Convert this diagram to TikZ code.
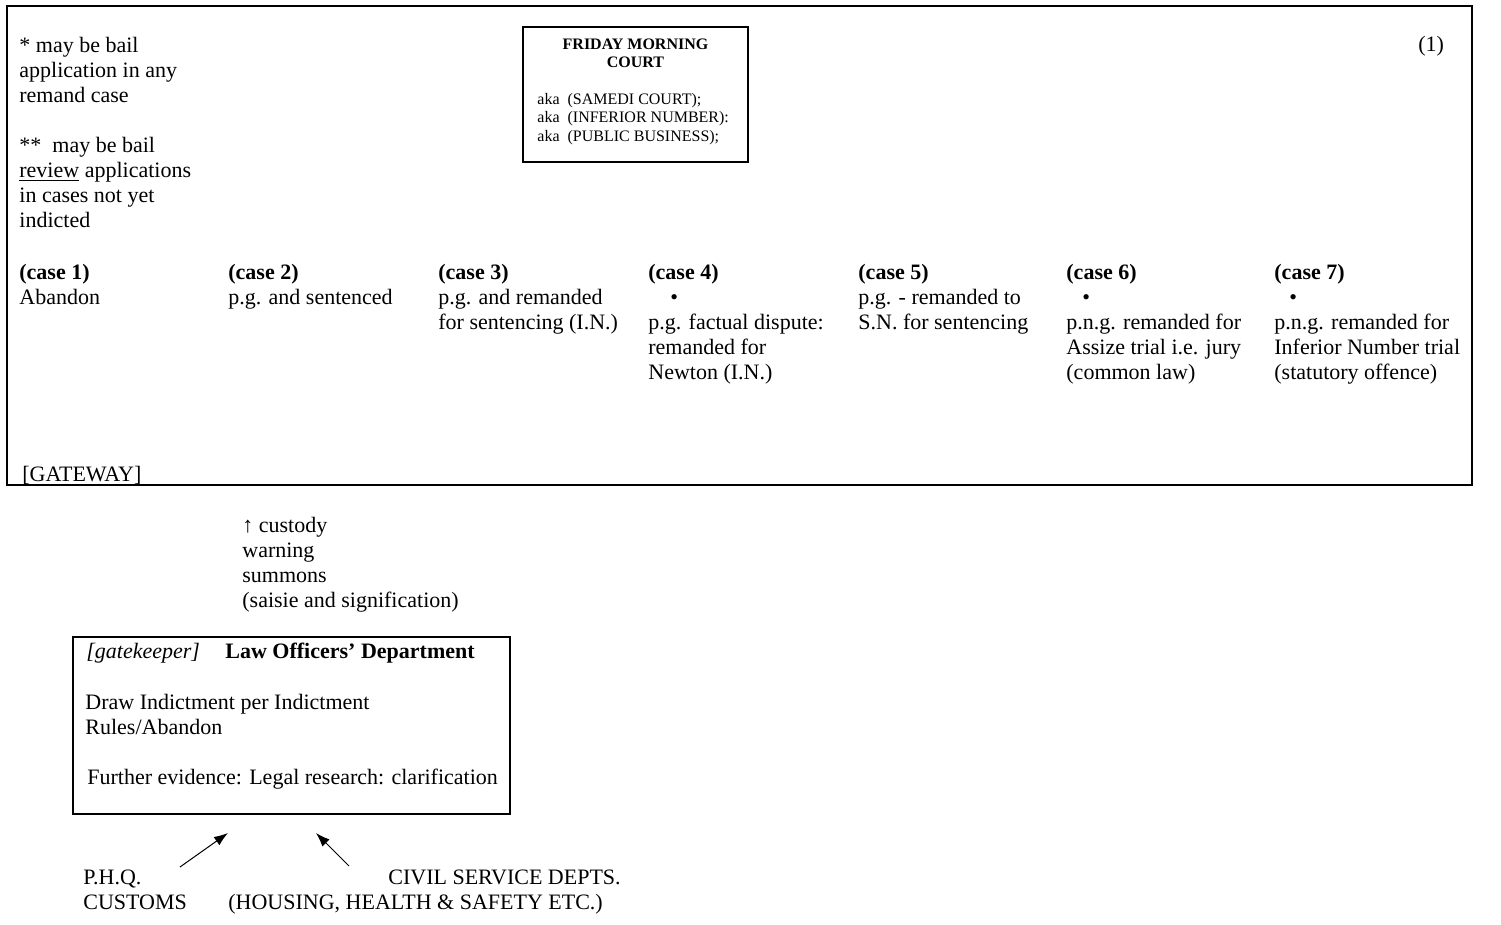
\documentclass[tikz,border=0pt]{standalone}
\usepackage{fontspec}
\setmainfont{Liberation Serif}
\usetikzlibrary{arrows.meta}

\tikzset{
  txt/.style={anchor=north west, inner sep=0pt, align=left, font=\fontsize{11}{12.5}\selectfont, execute at begin node=\strut},
  smalltxt/.style={anchor=north west, inner sep=0pt, align=left, font=\fontsize{8}{9.25}\selectfont, execute at begin node=\strut},
  frame/.style={draw, line width=0.7pt},
  feed/.style={-{Latex[length=7pt,width=5pt]}, line width=0.5pt}
}

\begin{document}
\begin{tikzpicture}[x=0.5pt, y=-0.5pt]
            \useasboundingbox (0,0) rectangle (1501,925);
            % the court
            \draw[frame] (7,6) rectangle (1472,485);
            \node[txt] (bail) at (19,36.5) {* may be bail\\application in any\\remand case\\[12.5pt]**~ may be bail\\\underline{review} applications\\in cases not yet\\indicted};
            \draw[frame] (523,27) rectangle (748,162);
            \node[smalltxt, anchor=north, align=center] (court) at (635.5,39) {\textbf{FRIDAY MORNING}\\[-0.6pt]\textbf{COURT}};
            \node[smalltxt] (aka) at (537,93) {aka~ (SAMEDI COURT);\\aka~ (INFERIOR NUMBER):\\aka~ (PUBLIC BUSINESS);};
            \node[txt] (page) at (1418,33.5) {(1)};
            % the seven outcomes
            \node[txt] (case1) at (19,263.5) {\textbf{(case 1)}\\Abandon};
            \node[txt] (case2) at (228,263.5) {\textbf{(case 2)}\\p.g. and sentenced};
            \node[txt] (case3) at (438,263.5) {\textbf{(case 3)}\\p.g. and remanded\\for sentencing (I.N.)};
            \node[txt] (case4) at (648,263.5) {\textbf{(case 4)}\\\hspace{11pt}\textbullet\\p.g. factual dispute:\\remanded for\\Newton (I.N.)};
            \node[txt] (case5) at (858,263.5) {\textbf{(case 5)}\\p.g. - remanded to\\S.N. for sentencing};
            \node[txt] (case6) at (1066,263.5) {\textbf{(case 6)}\\\hspace{8pt}\textbullet\\p.n.g. remanded for\\Assize trial i.e. jury\\(common law)};
            \node[txt] (case7) at (1274,263.5) {\textbf{(case 7)}\\\hspace{7.5pt}\textbullet\\p.n.g. remanded for\\Inferior Number trial\\(statutory offence)};
            \node[txt] (gateway) at (22,463.5) {[GATEWAY]};
            % the way in
            \node[txt] (process) at (242,516.5) {↑ custody\\warning\\summons\\(saisie and signification)};
            \draw[frame] (73,637) rectangle (510,814);
            \node[txt] (keeper) at (86,640.5) {\textit{[gatekeeper]}};
            \node[txt] (lod) at (225,640.5) {\textbf{Law Officers’ Department}};
            \node[txt] (indict) at (85,693.5) {Draw Indictment per Indictment\\Rules/Abandon};
            \node[txt] (further) at (87,766.5) {Further evidence: Legal research: clarification};
            % who sends cases
            \node[txt] (phq) at (83,869.5) {P.H.Q.\\CUSTOMS};
            \node[txt] (civil) at (388,866.5) {CIVIL SERVICE DEPTS.};
            \node[txt] (housing) at (228,891.5) {(HOUSING, HEALTH \& SAFETY ETC.)};
            \coordinate (phqfoot) at (180,867);
            \coordinate (phqhead) at (228,833);
            \coordinate (civilfoot) at (349,866);
            \coordinate (civilhead) at (316,833);
            \draw[feed] (phqfoot) -- (phqhead);
            \draw[feed] (civilfoot) -- (civilhead);
        \end{tikzpicture}
\end{document}
